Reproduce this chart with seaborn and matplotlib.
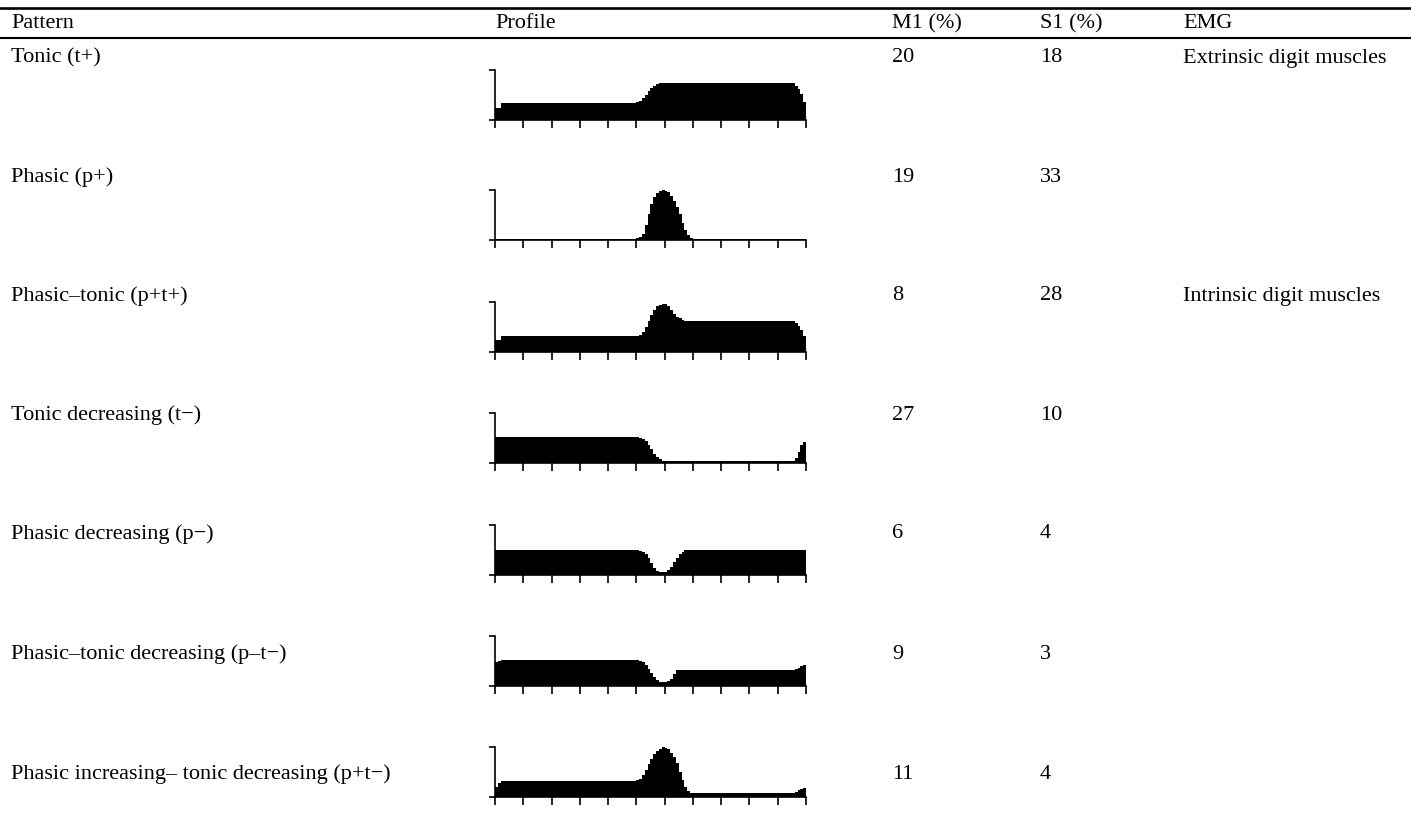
import numpy as np
import pandas as pd
import matplotlib
matplotlib.use("Agg")
import matplotlib.pyplot as plt
from matplotlib.lines import Line2D
import seaborn as sns

# table contents
patterns = ["Tonic (t+)", "Phasic (p+)", "Phasic\u2013tonic (p+t+)",
            "Tonic decreasing (t\u2212)", "Phasic decreasing (p\u2212)",
            "Phasic\u2013tonic decreasing (p\u2013t\u2212)",
            "Phasic increasing\u2013 tonic decreasing (p+t\u2212)"]
m1_pct = [20, 19, 8, 27, 6, 9, 11]
s1_pct = [18, 33, 28, 10, 4, 3, 4]
emg = ["Extrinsic digit muscles", "", "Intrinsic digit muscles", "", "", "", ""]
headers = ["Pattern", "Profile", "M1 (%)", "S1 (%)", "EMG"]

# profile heights, 10 bins per tick interval, 11 intervals
prof_t_plus = ([0.24] * 2 + [0.33] * 48 +
               [0.35, 0.38, 0.43, 0.50, 0.57, 0.63, 0.68, 0.71, 0.73, 0.73] +
               [0.73] * 46 + [0.68, 0.62, 0.52, 0.36])
prof_p_plus = ([0.02] * 50 +
               [0.03, 0.06, 0.12, 0.30, 0.52, 0.72, 0.86, 0.93, 0.97, 0.99,
                0.98, 0.95, 0.88, 0.78, 0.66, 0.52, 0.34, 0.20, 0.10, 0.04] +
               [0.02] * 40)
prof_pt_plus = ([0.23] * 2 + [0.31] * 48 +
                [0.32, 0.34, 0.40, 0.49, 0.62, 0.74, 0.84, 0.91, 0.94, 0.95,
                 0.95, 0.91, 0.83, 0.75, 0.70, 0.67, 0.64, 0.62, 0.62, 0.62] +
                [0.62] * 36 + [0.58, 0.52, 0.43, 0.31])
prof_t_minus = ([0.52] * 50 +
                [0.52, 0.51, 0.48, 0.44, 0.37, 0.28, 0.19, 0.12, 0.08, 0.05] +
                [0.04] * 46 + [0.10, 0.22, 0.36, 0.42])
prof_p_minus = ([0.49] * 50 +
                [0.49, 0.48, 0.46, 0.41, 0.33, 0.23, 0.14, 0.08, 0.06, 0.06,
                 0.06, 0.09, 0.15, 0.25, 0.34, 0.41, 0.46, 0.49, 0.49, 0.49] +
                [0.49] * 40)
prof_pt_minus = ([0.47, 0.49] + [0.51] * 48 +
                 [0.51, 0.50, 0.47, 0.42, 0.34, 0.25, 0.17, 0.11, 0.08, 0.07,
                  0.07, 0.09, 0.14, 0.24] +
                 [0.31] * 42 + [0.33, 0.36, 0.40, 0.42])
prof_p_plus_t_minus = ([0.20, 0.28] + [0.32] * 48 +
                       [0.33, 0.36, 0.43, 0.54, 0.66, 0.76, 0.85, 0.92, 0.96, 0.99,
                        0.98, 0.95, 0.88, 0.80, 0.68, 0.50, 0.33, 0.20, 0.11, 0.08] +
                       [0.08] * 36 + [0.10, 0.13, 0.16, 0.18])
profiles = [prof_t_plus, prof_p_plus, prof_pt_plus, prof_t_minus,
            prof_p_minus, prof_pt_minus, prof_p_plus_t_minus]

W, H = 1411, 822
sns.set_style("white")
plt.rcParams['font.family'] = ['Liberation Serif', 'DejaVu Serif']
plt.rcParams['text.color'] = 'black'

fig = plt.figure(figsize=(W / 100, H / 100), dpi=100)

def fx(px):
    return px / W

def fy(py):
    return 1 - py / H

fs = 16
col_x = [11, 495, 892, 1040, 1183]
row_y = [58, 177, 296, 415, 534, 654, 774]
base_y = [120, 240, 352, 463, 575, 686, 797]

# rules
fig.add_artist(Line2D([0, 1], [fy(8), fy(8)], color="black", lw=1.9))
fig.add_artist(Line2D([0, 1], [fy(38), fy(38)], color="black", lw=1.5))

for x, h in zip(col_x, headers):
    fig.text(fx(x), fy(24), h, fontsize=fs, va="center", ha="left")

for i in range(len(patterns)):
    y = row_y[i]
    fig.text(fx(col_x[0]), fy(y), patterns[i], fontsize=fs, va="center")
    fig.text(fx(col_x[2]), fy(y), str(m1_pct[i]), fontsize=fs, va="center")
    fig.text(fx(col_x[3]), fy(y), str(s1_pct[i]), fontsize=fs, va="center")
    if emg[i]:
        fig.text(fx(col_x[4]), fy(y), emg[i], fontsize=fs, va="center")

    vals = np.array(profiles[i])
    n = len(vals)
    centers = (np.arange(n) + 0.5) * 11 / n
    df = pd.DataFrame({"t": centers, "rate": vals})

    b = base_y[i]
    ax = fig.add_axes([fx(495), fy(b), fx(806) - fx(495), 50 / H])
    sns.histplot(data=df, x="t", weights="rate", bins=n, binrange=(0, 11),
                 element="step", fill=True, color="black", alpha=1,
                 linewidth=0, ax=ax)
    ax.set_xlim(0, 11)
    ax.set_ylim(0, 1)
    ax.set_xticks(range(12))
    ax.set_yticks([0, 1])
    ax.set_xticklabels([])
    ax.set_yticklabels([])
    ax.set_xlabel("")
    ax.set_ylabel("")
    for s in ["top", "right"]:
        ax.spines[s].set_visible(False)
    for s in ["left", "bottom"]:
        ax.spines[s].set_linewidth(1.2)
        ax.spines[s].set_color("black")
    ax.tick_params(axis="x", direction="out", length=6, width=1.2, color="black",
                   bottom=True)
    ax.tick_params(axis="y", direction="out", length=4.5, width=1.2, color="black",
                   left=True)
    ax.patch.set_alpha(0)

fig.savefig("out.png", dpi=100)
